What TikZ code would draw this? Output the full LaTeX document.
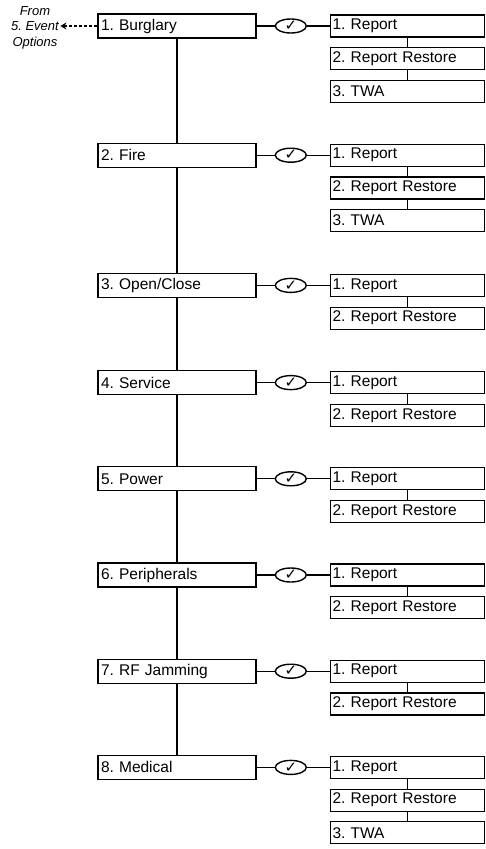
\documentclass[tikz,border=0pt]{standalone}
\usepackage{fontspec}
\setmainfont{Liberation Sans}
\newfontfamily\symfont{DejaVu Sans}
\usepackage{tikz}
\usetikzlibrary{arrows.meta, positioning, shapes.geometric}
\frenchspacing

\begin{document}
\begin{tikzpicture}[
    x=1pt, y=1pt,
    line width=1.2pt,
    event/.style={rectangle, draw, fill=white, text width=152pt, inner xsep=3pt, inner ysep=0pt, minimum height=24pt, align=left, font=\fontsize{15.5}{18}\selectfont},
    option/.style={rectangle, draw, fill=white, text width=150pt, inner xsep=2pt, inner ysep=0pt, minimum height=22pt, align=left, font=\fontsize{15.5}{18}\selectfont},
    enable/.style={ellipse, draw, line width=1.4pt, inner sep=0pt, minimum width=31pt, minimum height=14pt, font=\symfont\fontsize{15}{15}\selectfont},
    note/.style={align=center, inner sep=1pt, font=\itshape\fontsize{13}{15.5}\selectfont},
    back/.style={-{Stealth[length=6pt, width=7pt, inset=2pt]}, dash pattern=on 3pt off 2pt},
]
\useasboundingbox (0,0) rectangle (486,-849);

% Events
\node[event] (burglary) at (177,-26) {1. Burglary};
\node[event, below=104pt of burglary] (fire) {2. Fire};
\node[event, below=105pt of fire] (openclose) {3. Open/Close};
\node[event, below=72pt of openclose] (service) {4. Service};
\node[event, below=71pt of service] (power) {5. Power};
\node[event, below=71pt of power] (periph) {6. Peripherals};
\node[event, below=71pt of periph] (jamming) {7. RF Jamming};
\node[event, below=71pt of jamming] (medical) {8. Medical};

% Entry
\node[note, left=37pt of burglary, yshift=-1.5pt] (from) {From\\5. Event\\Options};
\draw[back] (burglary.west) -- (burglary.west -| from.east);

% Spine
\draw (burglary) -- (fire);
\draw (fire) -- (openclose);
\draw (openclose) -- (service);
\draw (service) -- (power);
\draw (power) -- (periph);
\draw (periph) -- (jamming);
\draw (jamming) -- (medical);

% Enable marks and options
\foreach \ev/\n in {burglary/3, fire/3, openclose/2, service/2, power/2, periph/2, jamming/2, medical/3} {
  \node[enable, right=18pt of \ev] (\ev-chk) {✓};
  \node[option, right=23pt of \ev-chk] (\ev-1) {1. Report};
  \node[option, below=9.5pt of \ev-1] (\ev-2) {2. Report Restore};
  \draw (\ev) -- (\ev-chk);
  \draw (\ev-chk) -- (\ev-1);
  \draw (\ev-1) -- (\ev-2);
  \ifnum\n=3
    \node[option, below=9.5pt of \ev-2] (\ev-3) {3. TWA};
    \draw (\ev-2) -- (\ev-3);
  \fi
}

\end{tikzpicture}
\end{document}
